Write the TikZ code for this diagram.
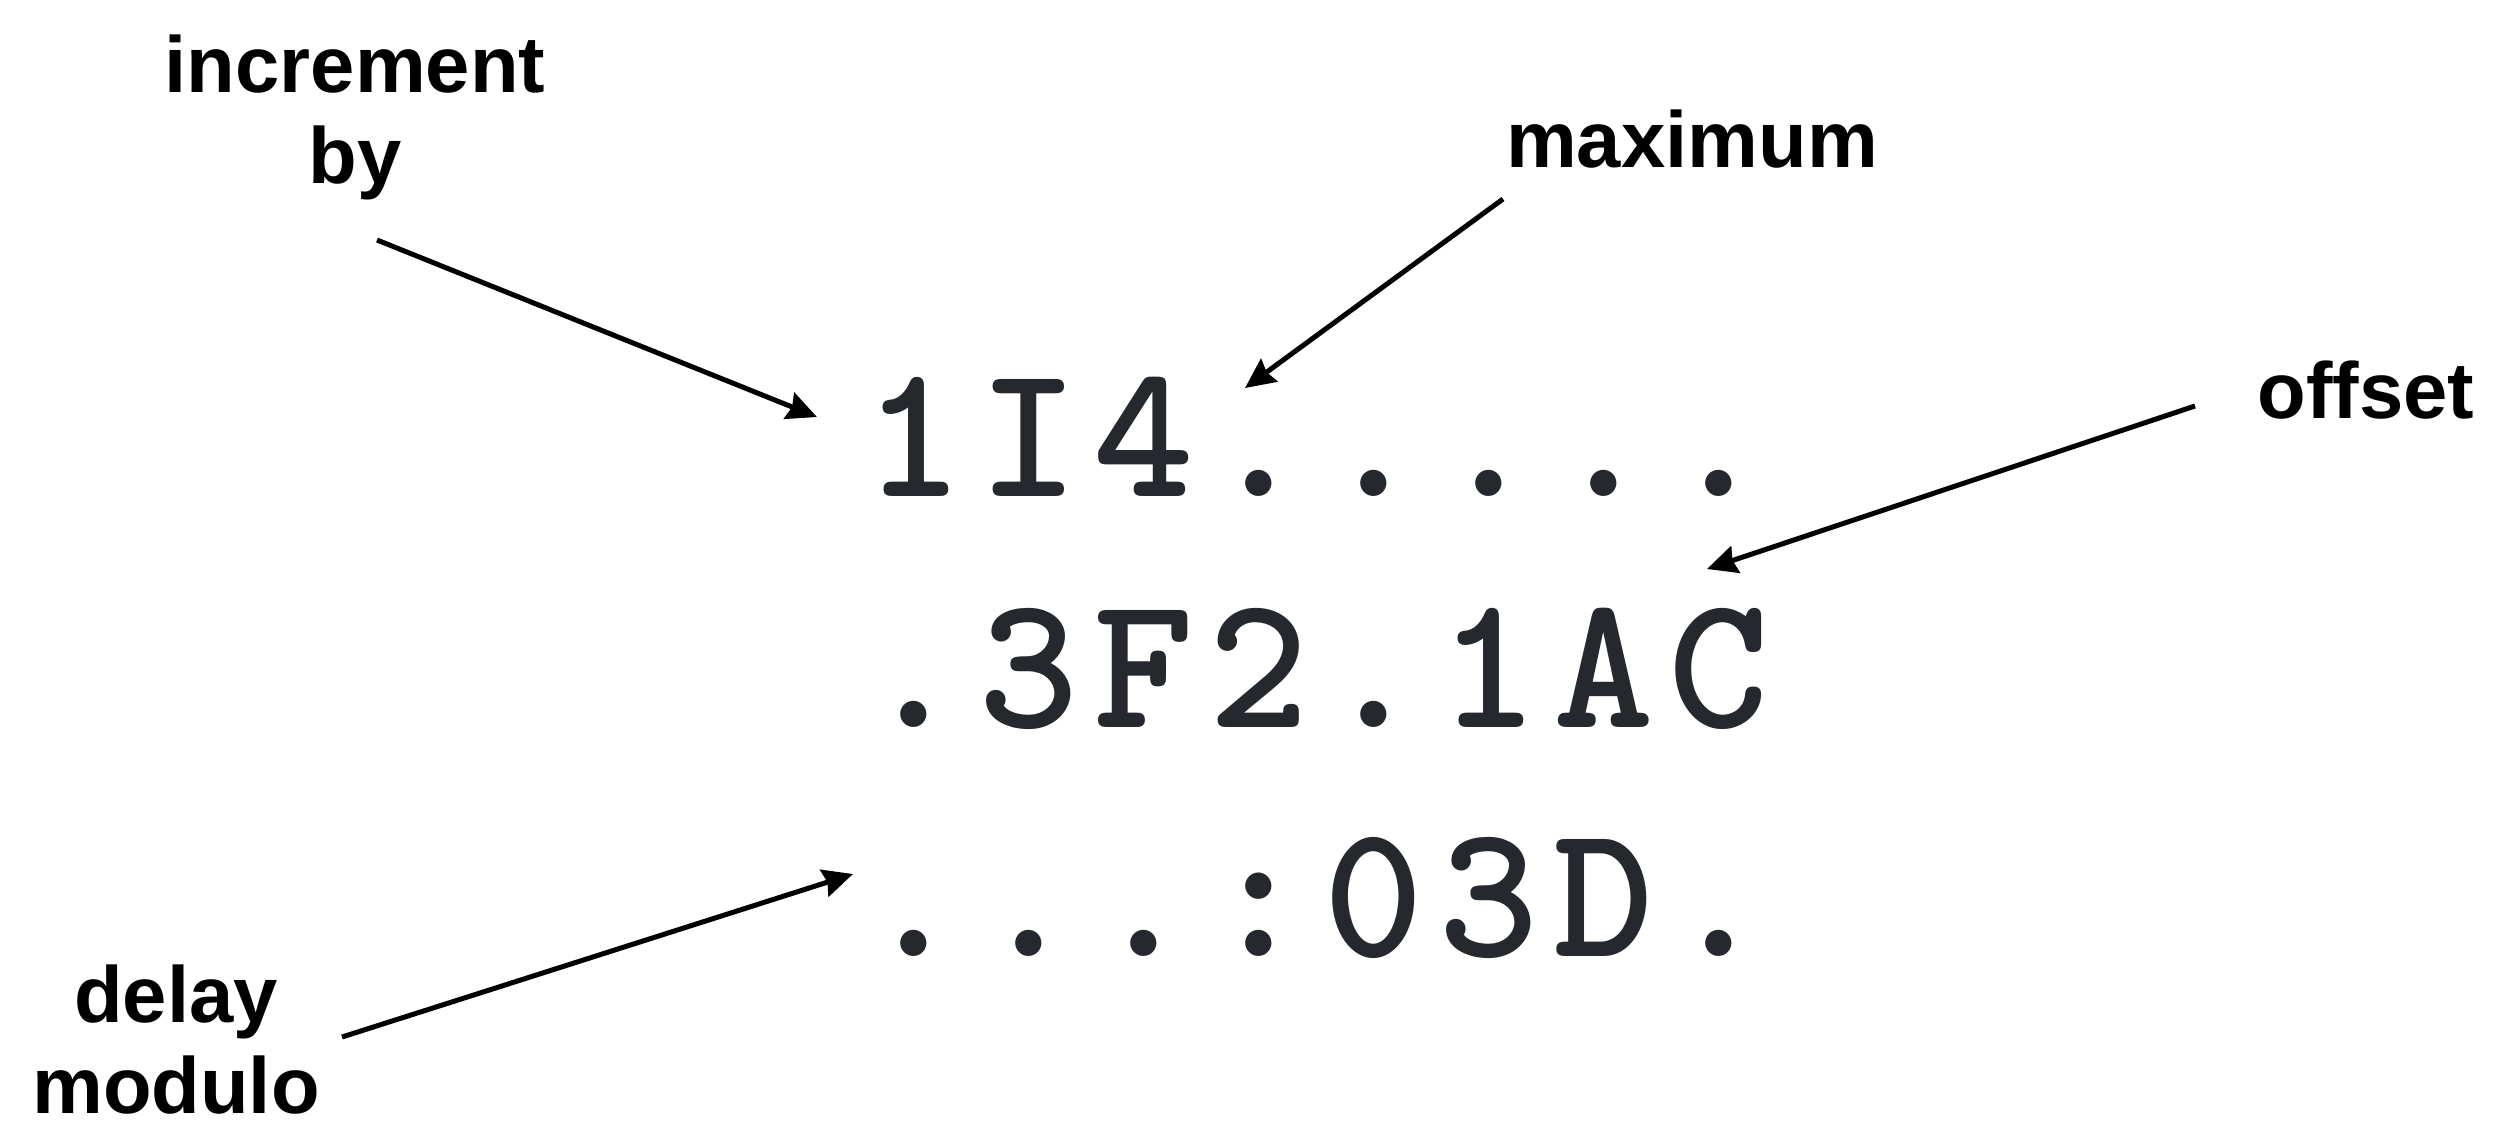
\documentclass[tikz,border=0pt]{standalone}
\usepackage{fontspec}
\setmainfont{Liberation Sans}
\usetikzlibrary{arrows.meta}
\definecolor{codegray}{RGB}{37,41,45}
\newcommand{\cellc}[1]{\makebox[28.75pt][c]{#1}}
\tikzset{
  lbl/.style={font=\fontsize{19.9pt}{22pt}\selectfont\bfseries, text=black, inner sep=0pt, align=center},
  code/.style={font=\fontsize{47.9pt}{57pt}\selectfont\ttfamily\bfseries, text=codegray, inner sep=0pt, anchor=base west},
  ptr/.style={draw=black, line width=1.25pt, -{Stealth[length=7.5pt, width=7pt, inset=0.8pt]}}
}
\begin{document}
\begin{tikzpicture}[x=0.25pt,y=-0.25pt]
\useasboundingbox (0,0) rectangle (2494,1125);
% code rows
\node[code] (row1) at (855.5,496) {\cellc{1}\cellc{I}\cellc{4}\cellc{.}\cellc{.}\cellc{.}\cellc{.}\cellc{.}};
\node[code] (row2) at (855.5,727) {\cellc{.}\cellc{3}\cellc{F}\cellc{2}\cellc{.}\cellc{1}\cellc{A}\cellc{C}};
\node[code] (row3) at (855.5,956) {\cellc{.}\cellc{.}\cellc{.}\cellc{:}\cellc{0}\cellc{3}\cellc{D}\cellc{.}};
% labels
\node[lbl, anchor=base] (inc) at (355,183) {increment\\[0.75pt]by};
\node[lbl, anchor=base] (max) at (1692,167) {maximum};
\node[lbl, anchor=base] (off) at (2366,418) {offset};
\node[lbl, anchor=base] (del) at (176,1113) {delay\\[0.75pt]modulo};
% connector ends
\coordinate (incS) at (377,240);  \coordinate (incT) at (817,417);
\coordinate (maxS) at (1503,199); \coordinate (maxT) at (1245,388);
\coordinate (offS) at (2195,406); \coordinate (offT) at (1707,569);
\coordinate (delS) at (342,1037); \coordinate (delT) at (853,874);
\draw[ptr] (incS) -- (incT);
\draw[ptr] (maxS) -- (maxT);
\draw[ptr] (offS) -- (offT);
\draw[ptr] (delS) -- (delT);
\end{tikzpicture}
\end{document}
